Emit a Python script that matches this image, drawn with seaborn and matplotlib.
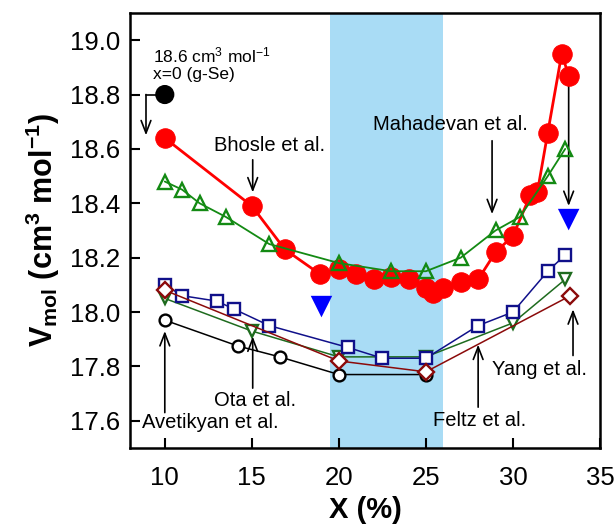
import matplotlib
matplotlib.use("Agg")
import matplotlib.pyplot as plt
import seaborn as sns

# ---- data ----
red_x = [10, 15, 16.9, 18.9, 20, 21, 22, 23, 24, 25, 25.4, 26, 27, 28, 29, 30, 31, 31.4, 32, 32.8, 33.2]
red_y = [18.64, 18.39, 18.23, 18.14, 18.16, 18.14, 18.12, 18.13, 18.12, 18.09, 18.07, 18.09,
         18.11, 18.12, 18.22, 18.28, 18.43, 18.44, 18.66, 18.95, 18.87]

gse_x = [10]
gse_y = [18.8]

up_x = [10, 11, 12, 13.5, 16, 20, 23, 25, 27, 29, 30.4, 32, 33]
up_y = [18.48, 18.45, 18.40, 18.35, 18.25, 18.18, 18.15, 18.15, 18.20, 18.30, 18.35, 18.50, 18.60]

bluetri_x = [19, 33.2]
bluetri_y = [18.02, 18.34]

sq_x = [10, 11, 13, 14, 16, 20.5, 22.5, 25, 28, 30, 32, 33]
sq_y = [18.10, 18.06, 18.04, 18.01, 17.95, 17.87, 17.83, 17.83, 17.95, 18.00, 18.15, 18.21]

down_x = [10, 15, 20, 25, 30, 33]
down_y = [18.05, 17.93, 17.835, 17.835, 17.96, 18.12]

dia_x = [10, 20, 25, 33.3]
dia_y = [18.08, 17.82, 17.78, 18.06]

circ_x = [10, 14.2, 16.6, 20, 25]
circ_y = [17.97, 17.875, 17.835, 17.77, 17.77]

sns.set_style("ticks")
plt.rcParams['font.family'] = ['Liberation Sans', 'DejaVu Sans']
plt.rcParams['mathtext.default'] = 'regular'
plt.rcParams['text.color'] = 'black'
plt.rcParams['axes.labelcolor'] = 'black'

fig = plt.figure(figsize=(6.14, 5.32), dpi=100)
ax = fig.add_axes([0.2117, 0.158, 0.7655, 0.8176])

# shaded composition window
ax.axvspan(19.5, 26, color='#a9dcf5', lw=0, zorder=0)

common = dict(ax=ax, sort=False, estimator=None, legend=False)

sns.lineplot(x=circ_x, y=circ_y, color='black', lw=1.1, marker='o', ms=8.5,
             mfc='white', mec='black', mew=1.7, zorder=3, **common)
sns.lineplot(x=dia_x, y=dia_y, color='#8b0a0a', lw=1.1, marker='D', ms=8,
             mfc='white', mec='#8b0a0a', mew=1.7, zorder=4, **common)
sns.lineplot(x=down_x, y=down_y, color='#1e6b1e', lw=1.1, marker='v', ms=9,
             mfc='white', mec='#1e6b1e', mew=1.7, zorder=3, **common)
sns.lineplot(x=sq_x, y=sq_y, color='#10108a', lw=1.1, marker='s', ms=8,
             mfc='white', mec='#10108a', mew=1.7, zorder=3, **common)
sns.lineplot(x=red_x, y=red_y, color='#ff0000', lw=2, marker='o', ms=14,
             mfc='#ff0000', mec='#ff0000', zorder=5, **common)
sns.lineplot(x=up_x, y=up_y, color='#138a13', lw=1.3, marker='^', ms=9.5,
             mfc='none', mec='#138a13', mew=1.7, zorder=6, **common)
sns.scatterplot(x=bluetri_x, y=bluetri_y, ax=ax, marker='v', s=240, color='#0000ff',
                edgecolor='none', zorder=6, legend=False)
sns.scatterplot(x=gse_x, y=gse_y, ax=ax, marker='o', s=190, color='black',
                edgecolor='none', zorder=6, legend=False)

# annotations
arrow = dict(arrowstyle='->, head_length=0.9, head_width=0.35', color='black', lw=1.2,
             shrinkA=0, shrinkB=0)
ax.plot([10, 8.92], [18.8, 18.8], color='black', lw=1.2, zorder=2)
ax.annotate('', xy=(8.92, 18.65), xytext=(8.92, 18.8), arrowprops=arrow)
ax.text(9.3, 18.945, '18.6 cm$^{3}$ mol$^{-1}$', fontsize=12.5, va='center', ha='left')
ax.text(9.3, 18.875, 'x=0 (g-Se)', fontsize=12.5, va='center', ha='left')

ax.text(16.0, 18.614, 'Bhosle et al.', fontsize=14.5, ha='center', va='center')
ax.annotate('', xy=(15.05, 18.44), xytext=(15.05, 18.56), arrowprops=arrow)

ax.text(26.4, 18.69, 'Mahadevan et al.', fontsize=14.5, ha='center', va='center')
ax.annotate('', xy=(28.8, 18.36), xytext=(28.8, 18.63), arrowprops=arrow)

ax.annotate('', xy=(33.2, 18.39), xytext=(33.2, 18.85), arrowprops=arrow)

ax.text(12.6, 17.595, 'Avetikyan et al.', fontsize=14.5, ha='center', va='center')
ax.annotate('', xy=(10, 17.93), xytext=(10, 17.63), arrowprops=arrow)

ax.text(15.2, 17.676, 'Ota et al.', fontsize=14.5, ha='center', va='center')
ax.annotate('', xy=(15.05, 17.91), xytext=(15.05, 17.72), arrowprops=arrow)

ax.text(28.1, 17.60, 'Feltz et al.', fontsize=14.5, ha='center', va='center')
ax.annotate('', xy=(28.0, 17.88), xytext=(28.0, 17.65), arrowprops=arrow)

ax.text(31.5, 17.79, 'Yang et al.', fontsize=14.5, ha='center', va='center')
ax.annotate('', xy=(33.45, 18.01), xytext=(33.45, 17.84), arrowprops=arrow)

ax.set_xlim(8, 35)
ax.set_ylim(17.5, 19.1)
ax.set_xticks([10, 15, 20, 25, 30, 35])
ax.set_yticks([17.6, 17.8, 18.0, 18.2, 18.4, 18.6, 18.8, 19.0])
ax.set_yticklabels(['17.6', '17.8', '18.0', '18.2', '18.4', '18.6', '18.8', '19.0'])
ax.tick_params(direction='in', length=7, width=1.5, labelsize=18.5, colors='black')
ax.tick_params(axis='x', pad=13)
ax.tick_params(axis='y', pad=7)
for s in ax.spines.values():
    s.set_linewidth(1.8)
    s.set_color('black')

ax.set_xlabel('X (%)', fontsize=21, fontweight='bold', labelpad=4)
ax.set_ylabel('V$_{mol}$ (cm$^{3}$ mol$^{-1}$)', fontsize=22, fontweight='bold', labelpad=6)

fig.savefig('out.png', dpi=100)
